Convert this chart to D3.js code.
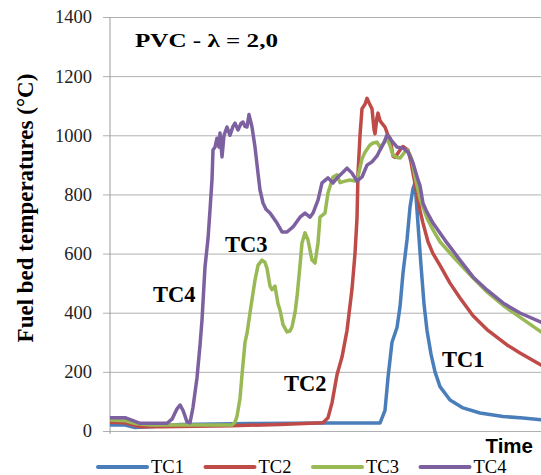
<!DOCTYPE html>
<html>
<head>
<meta charset="utf-8">
<script src="https://cdn.jsdelivr.net/npm/d3@7"></script>
<style>
  body { margin: 0; background: #fff; }
  svg { display: block; }
</style>
</head>
<body>
<div id="chart"></div>
<script>
// series names + colours (Excel 2007 palette)
const seriesNames = ['TC1', 'TC2', 'TC3', 'TC4'];
const seriesColors = ['#4a7ebb', '#be4b48', '#98b954', '#7d60a0'];
const yTicks = [0, 200, 400, 600, 800, 1000, 1200, 1400];

// [time step, temperature °C]
const tc1 = [[0,20],[15,20],[25,12],[40,14],[70,22],[140,25],[220,27],[270,27],[275,70],[278,180],[282,300],
  [287,350],[290,420],[293,534],[297,646],[300,757],[303,820],[305,839],[308,700],[311,560],[314,430],
  [317,340],[321,260],[325,200],[330,150],[340,105],[353,78],[370,61],[393,49],[413,44],[431,38]];

const tc2 = [[0,30],[15,28],[30,14],[50,14],[122,18],[170,22],[213,28],[218,45],[222,95],[227,190],[232,250],
  [237,340],[242,480],[245,600],[247,720],[248,870],[250,1000],[252,1090],[255,1105],[257,1125],[259,1110],
  [262,1090],[264,1020],[265,1005],[267,1060],[268,1075],[270,1050],[272,1040],[275,1028],[278,1000],
  [280,990],[283,930],[285,925],[288,940],[291,955],[293,962],[296,955],[298,950],[301,910],[303,872],
  [306,820],[308,781],[310,745],[313,703],[318,640],[323,600],[330,560],[340,500],[350,450],[363,390],
  [377,343],[397,291],[410,264],[431,223]];

const tc3 = [[0,37],[15,35],[25,25],[40,20],[122,20],[125,30],[127,50],[130,110],[132,190],[135,300],[137,330],
  [140,400],[143,467],[145,510],[148,560],[152,578],[155,570],[157,550],[160,490],[162,478],[165,490],
  [168,430],[170,409],[173,360],[177,335],[180,338],[182,352],[185,400],[187,453],[190,560],[192,636],
  [195,670],[198,646],[202,578],[205,568],[208,636],[210,723],[215,737],[218,805],[223,859],[227,866],
  [230,840],[235,845],[240,849],[245,845],[248,860],[252,920],[255,943],[260,967],[263,974],[267,977],
  [270,960],[274,975],[277,990],[280,965],[283,933],[287,925],[290,923],[294,940],[297,950],[300,935],
  [302,916],[305,860],[310,785],[317,720],[323,680],[330,640],[343,590],[360,528],[377,470],[395,420],
  [412,380],[431,335]];

const tc4 = [[0,45],[15,45],[23,35],[30,26],[57,26],[62,40],[67,75],[70,88],[73,70],[77,31],[80,28],[83,80],
  [87,180],[90,290],[92,375],[95,555],[98,650],[100,747],[102,850],[103,950],[105,960],[107,990],[109,960],
  [110,1008],[112,927],[114,1000],[117,1028],[120,1000],[123,1030],[125,1041],[128,1018],[131,1040],
  [133,1045],[135,1030],[137,1028],[139,1070],[142,1028],[145,960],[148,872],[150,815],[153,771],[156,750],
  [160,737],[167,703],[172,673],[177,673],[183,690],[190,723],[195,737],[200,723],[203,737],[208,781],
  [212,839],[218,856],[223,839],[228,859],[233,875],[237,889],[242,872],[247,845],[252,859],[257,899],
  [262,910],[267,930],[270,950],[274,975],[277,1001],[280,990],[282,980],[287,960],[293,957],[298,943],
  [303,906],[308,849],[310,830],[313,770],[317,740],[323,703],[337,636],[350,578],[363,521],[377,477],
  [393,433],[410,399],[431,368]];

const seriesData = [tc1, tc2, tc3, tc4];

// in-plot labels, anchored in data units
const labelNames = ['TC4', 'TC3', 'TC2', 'TC1'];
const labelT = [43, 115, 174, 332];
const labelV = [436, 605, 135, 216];

const W = 541, H = 475;
const margin = {left: 110, right: 541, top: 17, bottom: 431};
const serif = '"Liberation Serif", "Times New Roman", serif';

const svg = d3.select('#chart').append('svg')
  .attr('width', W).attr('height', H);

const x = d3.scaleLinear().domain([0, 431]).range([margin.left, margin.right]);
const y = d3.scaleLinear().domain([0, 1400]).range([margin.bottom, margin.top]);

// gridlines + y tick labels
const yAxis = svg.append('g')
  .attr('transform', 'translate(' + margin.left + ',0)')
  .call(d3.axisLeft(y).tickValues(yTicks).tickFormat(d3.format('d'))
    .tickSize(-(margin.right - margin.left)).tickPadding(18))
  .attr('font-family', serif)
  .attr('font-size', '18.5px');
yAxis.select('.domain').remove();
yAxis.selectAll('.tick line')
  .attr('x1', -7)
  .attr('stroke', '#b0b0b0')
  .attr('stroke-width', 1);
yAxis.selectAll('.tick text')
  .attr('fill', '#222');

// vertical axis line
svg.append('line')
  .attr('x1', margin.left).attr('x2', margin.left)
  .attr('y1', y(1400)).attr('y2', y(0) + 3)
  .attr('stroke', '#9a9a9a').attr('stroke-width', 1);

// y title
svg.append('text')
  .attr('transform', 'translate(33,' + ((margin.top + margin.bottom) / 2 - 16) + ') rotate(-90)')
  .attr('text-anchor', 'middle')
  .attr('font-family', serif)
  .attr('font-weight', 'bold')
  .attr('font-size', '23px')
  .text('Fuel bed temperatures (°C)');

// lines
svg.append('clipPath').attr('id', 'plot')
  .append('rect').attr('x', margin.left).attr('y', 0)
  .attr('width', margin.right - margin.left).attr('height', margin.bottom);

const line = d3.line()
  .x(d => x(d[0]))
  .y(d => y(d[1]));

svg.append('g').attr('clip-path', 'url(#plot)')
  .selectAll('path')
  .data(seriesData)
  .join('path')
  .attr('d', line)
  .attr('fill', 'none')
  .attr('stroke', (d, i) => seriesColors[i])
  .attr('stroke-width', 3.5)
  .attr('stroke-linejoin', 'round')
  .attr('stroke-linecap', 'round');

// in-plot labels
svg.append('g').selectAll('text')
  .data(labelNames)
  .join('text')
  .attr('x', (d, i) => x(labelT[i]))
  .attr('y', (d, i) => y(labelV[i]))
  .attr('font-family', serif)
  .attr('font-weight', 'bold')
  .attr('font-size', '22.5px')
  .text(d => d);

// case annotation
svg.append('text')
  .attr('x', x(25)).attr('y', y(1298))
  .attr('font-family', serif)
  .attr('font-weight', 'bold')
  .attr('font-size', '19px')
  .attr('textLength', 143)
  .attr('lengthAdjust', 'spacingAndGlyphs')
  .text('PVC - λ = 2,0');

// x title
svg.append('text')
  .attr('x', 533).attr('y', 453)
  .attr('text-anchor', 'end')
  .attr('font-family', '"Liberation Sans", Arial, sans-serif')
  .attr('font-weight', 'bold')
  .attr('font-size', '20.5px')
  .text('Time');

// legend
const lx = d3.scalePoint().domain(seriesNames).range([98, 420.5]);
const leg = svg.append('g').selectAll('g')
  .data(seriesNames)
  .join('g')
  .attr('transform', d => 'translate(' + lx(d) + ',467)');
leg.append('line')
  .attr('x1', 0).attr('x2', 49)
  .attr('stroke', (d, i) => seriesColors[i])
  .attr('stroke-width', 4)
  .attr('stroke-linecap', 'round');
leg.append('text')
  .attr('x', 53).attr('y', 5.5)
  .attr('font-family', serif)
  .attr('font-size', '18.5px')
  .text(d => d);
</script>
</body>
</html>
